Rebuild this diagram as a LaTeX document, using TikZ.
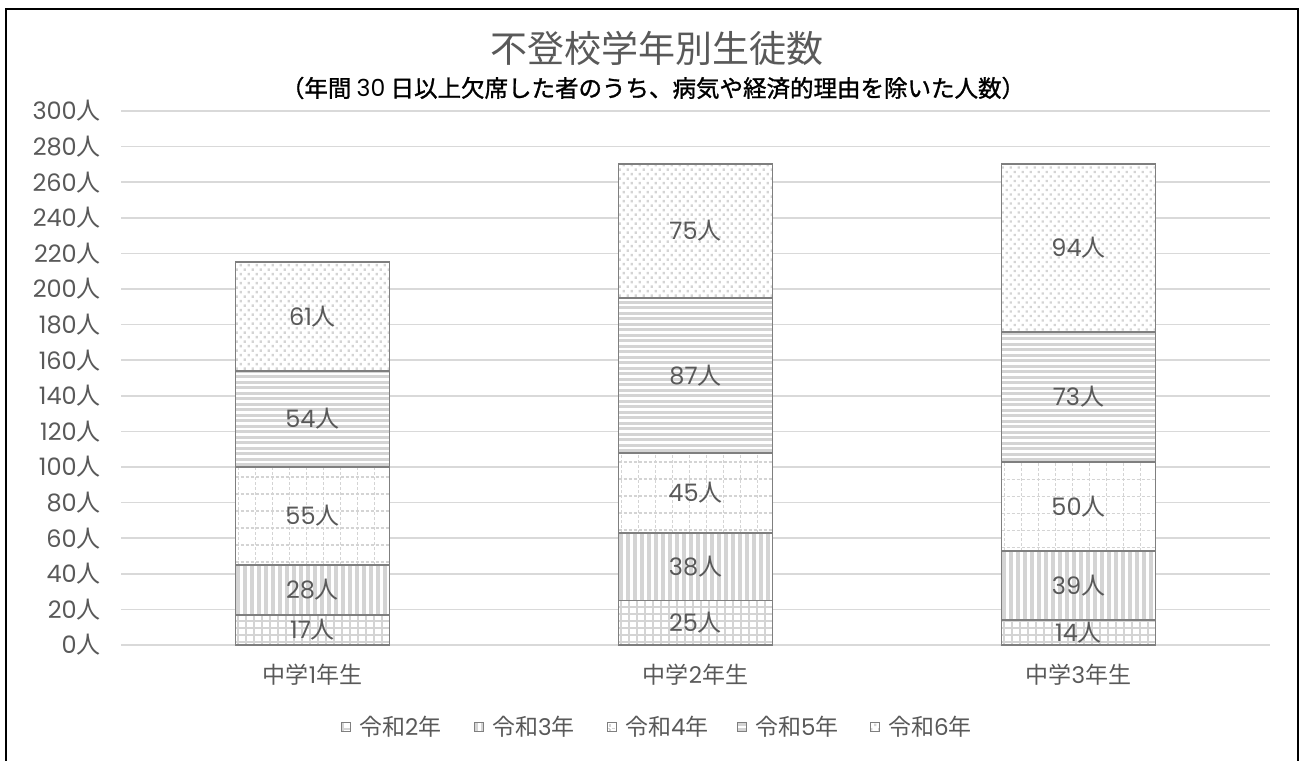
\documentclass[tikz,border=0pt]{standalone}
\usepackage{fontspec}
\setmainfont{Noto Sans CJK JP}
\newfontfamily\numfont{Poppins}
\newfontfamily\subfont{Noto Sans CJK JP}[FakeBold=1.2]
\usetikzlibrary{backgrounds}

\definecolor{textgray}{HTML}{595959}
\definecolor{gridgray}{HTML}{D9D9D9}
\definecolor{edgegray}{HTML}{7F7F7F}
\definecolor{patgray}{HTML}{D4D4D4}

% digits in a rounder face
\newcommand{\nm}[1]{{\numfont #1}}

% fill patterns, all clipped to (#1,#2) -- (#3,#4)
\newcommand{\patGrid}[4]{%
  \begin{scope}
    \clip (#1,#2) rectangle (#3,#4);
    \foreach \dd in {2,10,...,162}
      \draw[patgray, line width=2] ({#1+\dd},#2) -- ({#1+\dd},#4);
    \foreach \dd in {3,10,...,175}
      \draw[patgray, line width=2] (#1,{#2+\dd}) -- (#3,{#2+\dd});
  \end{scope}}
\newcommand{\patVert}[4]{%
  \begin{scope}
    \clip (#1,#2) rectangle (#3,#4);
    \foreach \dd in {2,9,...,162}
      \draw[patgray, line width=4] ({#1+\dd},#2) -- ({#1+\dd},#4);
  \end{scope}}
\newcommand{\patDash}[4]{%
  \begin{scope}
    \clip (#1,#2) rectangle (#3,#4);
    \foreach \dd in {3,20,...,170}
      \draw[patgray, line width=1.5, dash pattern=on 3 off 2] ({#1+\dd},#2) -- ({#1+\dd},#4);
    \foreach \dd in {3,20,...,175}
      \draw[patgray, line width=1.5, dash pattern=on 3 off 2] (#1,{#2+\dd}) -- (#3,{#2+\dd});
  \end{scope}}
\newcommand{\patHoriz}[4]{%
  \begin{scope}
    \clip (#1,#2) rectangle (#3,#4);
    \foreach \dd in {2,7.5,...,175}
      \draw[patgray, line width=3] (#1,{#2+\dd}) -- (#3,{#2+\dd});
  \end{scope}}
\newcommand{\patDots}[4]{%
  \begin{scope}
    \clip (#1,#2) rectangle (#3,#4);
    \fill[patgray] \foreach \rr in {0,...,38} {
      \foreach \cc in {0,...,20} {
        ({#1+\cc*8+mod(\rr,2)*4},{#2+1+\rr*4.5}) rectangle ++(2.4,2.4) } };
  \end{scope}}

% one piece of a stacked bar: pattern, centre x, from, to, value, name
\newcommand{\stackseg}[6]{%
  \pgfmathsetmacro{\xl}{#2-77}
  \pgfmathsetmacro{\xr}{#2+77}
  \pgfmathsetmacro{\ylo}{\yo+#3*\uy}
  \pgfmathsetmacro{\yhi}{\yo+#4*\uy}
  \fill[white] (\xl,\ylo) rectangle (\xr,\yhi);
  #1{\xl}{\ylo}{\xr}{\yhi}
  \draw[segedge] (\xl,\ylo) rectangle (\xr,\yhi);
  \node[datalabel] (#6) at (#2,{(\ylo+\yhi)/2}) {\nm{#5}人};
}

\begin{document}
\begin{tikzpicture}[x=1pt, y=1pt,
    gridline/.style={gridgray, line width=1.5},
    segedge/.style={edgegray, line width=1.8},
    frame/.style={black, line width=2},
    axislabel/.style={text=textgray, anchor=east, inner sep=0pt,
                      font=\fontsize{24}{24}\selectfont},
    datalabel/.style={text=textgray, inner sep=0pt,
                      font=\fontsize{24}{24}\selectfont},
    catlabel/.style={text=textgray, inner sep=0pt,
                     font=\fontsize{23}{23}\selectfont},
    legtext/.style={text=textgray, anchor=west, inner sep=0pt,
                    font=\fontsize{23}{23}\selectfont}]
  \useasboundingbox (0,0) rectangle (1303,760);

  % axis origin and scale (one person)
  \def\yo{115}
  \def\uy{1.78}

  \draw[frame] (6,-2) -- (6,751) -- (1298,751) -- (1298,-2);

  % title
  \node[text=textgray, font=\fontsize{37}{37}\selectfont] (title)
    at (657,712) {不登校学年別生徒数};
  \node[text=black, font=\subfont\fontsize{23.5}{24}\selectfont] (subtitle)
    at (653,672) {（年間 \nm{30} 日以上欠席した者のうち、病気や経済的理由を除いた人数）};

  % grid lines and value axis
  \foreach \v in {0,20,...,300}
  {
    \draw[gridline] (121,{\yo+\v*\uy}) -- (1270,{\yo+\v*\uy});
    \node[axislabel] (ax-\v) at (101,{\yo+\v*\uy}) {\nm{\v}人};
  }

  % stacked bars
  \foreach \cx/\va/\vb/\vc/\vd/\ve [count=\i] in
    {312.5/17/28/55/54/61, 695.5/25/38/45/87/75, 1078.5/14/39/50/73/94}
  {
    \pgfmathsetmacro{\sa}{\va}
    \pgfmathsetmacro{\sb}{\sa+\vb}
    \pgfmathsetmacro{\sc}{\sb+\vc}
    \pgfmathsetmacro{\sd}{\sc+\vd}
    \pgfmathsetmacro{\se}{\sd+\ve}
    \stackseg{\patGrid}{\cx}{0}{\sa}{\va}{seg-\i-1}
    \stackseg{\patVert}{\cx}{\sa}{\sb}{\vb}{seg-\i-2}
    \stackseg{\patDash}{\cx}{\sb}{\sc}{\vc}{seg-\i-3}
    \stackseg{\patHoriz}{\cx}{\sc}{\sd}{\vd}{seg-\i-4}
    \stackseg{\patDots}{\cx}{\sd}{\se}{\ve}{seg-\i-5}
    \node[catlabel] (cat-\i) at (\cx,85) {中学\nm{\i}年生};
  }

  % legend
  \foreach \lx/\lpat/\yr [count=\k] in
    {341/\patGrid/2, 474/\patVert/3, 607/\patDash/4, 737/\patHoriz/5, 870/\patDots/6}
  {
    \fill[white] (\lx,28.5) rectangle ++(9,9);
    \lpat{\lx}{28.5}{\lx+9}{37.5}
    \draw[edgegray, line width=1] (\lx,28.5) rectangle ++(9,9);
    \node[legtext] (leg-\k) at (\lx+18,33) {令和\nm{\yr}年};
  }
\end{tikzpicture}
\end{document}
